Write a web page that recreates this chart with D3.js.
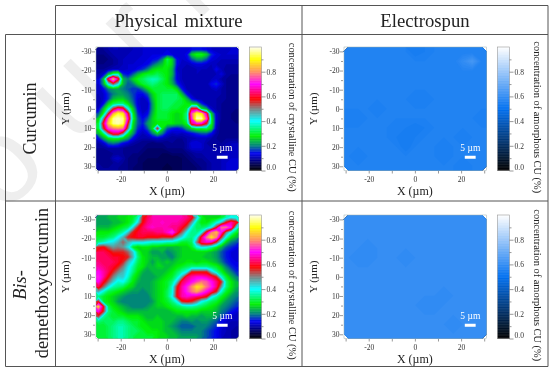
<!DOCTYPE html>
<html>
<head>
<meta charset="utf-8">
<script src="https://cdn.jsdelivr.net/npm/d3@7"></script>
<style>
  html, body { margin: 0; padding: 0; background: #fff; }
  svg { display: block; filter: blur(0.35px); }
  text { font-family: "Liberation Serif", serif; }
</style>
</head>
<body>
<div id="chart"></div>
<script>
// Labels and ticks
const columnLabels = ["Physical mixture", "Electrospun"];
const barTitles = ["concentration of crystalline CU (%)", "concentration of amorphous CU (%)"];
const xTicks = [-30, -20, -10, 0, 10, 20, 30];
const xLabelled = [-20, 0, 20];
const yTicks = [-30, -25, -20, -15, -10, -5, 0, 5, 10, 15, 20, 25, 30];
const yLabelled = [-30, -20, -10, 0, 10, 20, 30];
const barTicks = [0, 0.1, 0.2, 0.3, 0.4, 0.5, 0.6, 0.7, 0.8, 0.9];
const barLabelled = [0, 0.2, 0.4, 0.6, 0.8];

// Colour stops of the two colour bars
const rainbowDomain = [0, 0.06, 0.14, 0.2, 0.28, 0.4, 0.5, 0.58, 0.7, 0.8, 0.9, 1];
const rainbowColors = ["#000000", "#000060", "#0000f0", "#008080", "#00f000", "#00ffff", "#808080", "#ff0000", "#ff00ff", "#ff9060", "#ffff00", "#fffff0"];
const blueDomain = [0, 0.5, 1];
const blueColors = ["#000000", "#0070f0", "#ffffff"];

// Concentration (in %), one row per line, top to bottom
const mixtureCurcumin = [
  [8,9,10,11,11,10,10,11,11,12,12,12,12,12,13,12,12,12,12,14,14,14,13,12,11,11,11,12,12],
  [8,8,9,10,10,10,11,11,11,12,12,13,13,13,14,13,12,12,14,26,30,30,26,16,13,12,12,12,12],
  [7,7,8,9,10,11,11,11,12,12,13,14,15,20,32,26,14,12,13,18,22,22,18,13,12,11,11,11,11],
  [8,8,8,9,10,11,12,12,12,13,14,18,22,25,30,26,14,11,11,12,13,13,12,11,11,10,10,10,10],
  [9,9,10,11,11,11,12,12,14,16,20,26,28,28,28,24,12,11,10,10,11,11,11,10,14,11,9,9,9],
  [10,12,24,34,36,16,14,18,24,28,30,30,32,30,28,24,13,11,10,10,11,10,10,10,11,13,10,9,9],
  [12,24,62,84,62,24,20,26,30,32,35,37,36,32,28,22,13,11,10,10,11,10,10,11,12,10,9,8,8],
  [12,22,40,52,42,24,18,20,26,30,32,34,32,30,28,24,16,12,10,10,10,10,10,14,16,12,9,8,8],
  [11,14,20,22,22,20,18,16,16,20,26,30,30,30,30,30,26,15,11,10,10,10,10,11,12,10,9,8,8],
  [11,12,16,20,22,22,20,17,14,14,18,26,30,32,32,32,32,24,14,11,10,10,10,10,10,10,9,8,8],
  [10,12,16,24,26,26,22,18,13,11,14,24,30,32,32,32,32,30,24,14,11,10,10,10,10,9,9,8,8],
  [10,14,26,32,34,34,28,20,13,11,11,22,30,32,32,32,30,30,28,26,24,16,11,10,10,9,8,8,8],
  [12,24,36,55,66,62,40,26,14,11,12,22,30,32,32,30,30,28,30,60,60,28,22,12,10,9,8,8,8],
  [18,30,56,82,92,88,62,30,16,12,14,24,30,30,30,28,26,28,34,76,92,88,64,26,12,9,8,8,7],
  [26,48,78,96,98,96,68,32,18,14,18,26,30,30,30,28,26,28,34,72,98,98,74,30,12,9,8,8,7],
  [30,60,84,96,98,94,58,28,18,15,22,26,28,28,28,28,26,26,30,64,70,68,56,30,12,8,8,8,8],
  [30,54,74,78,80,78,50,26,16,13,18,28,58,28,18,15,14,16,22,26,30,30,32,26,11,8,8,8,8],
  [24,32,50,62,62,50,30,22,13,11,13,20,26,20,13,11,12,11,12,14,16,18,18,14,10,8,8,8,8],
  [14,22,28,30,30,26,22,14,11,10,10,11,12,11,10,9,9,9,10,10,11,11,11,10,9,8,9,9,9],
  [10,12,18,20,18,14,12,10,9,8,8,7,8,8,8,9,8,8,10,13,13,12,10,9,9,9,10,11,11],
  [9,9,10,10,10,9,8,8,8,8,7,7,7,7,8,8,8,8,10,12,12,12,10,10,10,10,10,11,11],
  [8,8,8,9,9,9,8,8,8,7,6,6,6,6,6,7,7,7,8,9,10,10,10,10,10,11,11,11,11],
  [8,8,8,11,12,10,8,7,7,6,6,6,6,5,5,5,5,6,7,8,9,9,10,10,10,11,11,12,12],
  [9,8,8,9,10,9,8,7,7,6,5,5,5,5,5,5,5,6,6,7,8,8,9,10,10,11,12,12,12],
  [9,9,9,9,9,8,8,7,6,6,5,5,5,5,4,5,5,6,6,6,7,8,9,10,10,11,12,12,12]
];

const mixtureBdmc = [
  [22,22,24,24,26,26,28,30,36,56,62,66,66,66,66,66,66,66,64,60,44,30,26,26,26,30,36,40,38],
  [22,22,22,24,24,26,28,32,42,58,64,66,66,68,66,66,66,64,60,48,34,28,28,32,38,44,58,66,60],
  [24,24,24,26,28,30,32,42,56,62,66,68,66,66,66,64,64,60,52,38,32,32,34,40,56,78,78,70,42],
  [28,28,28,30,32,36,44,56,60,62,62,62,64,64,68,74,62,52,40,34,34,40,60,78,84,70,50,38,30],
  [30,30,32,34,40,46,56,58,60,60,58,58,58,56,56,56,48,42,36,34,40,62,78,88,80,55,38,28,24],
  [34,36,40,42,46,52,46,42,42,42,40,38,38,38,36,36,34,30,30,32,50,64,68,66,54,38,26,20,18],
  [56,58,52,48,50,48,42,30,26,28,28,26,26,24,24,24,24,26,26,30,38,42,40,36,30,24,18,16,14],
  [62,62,60,56,56,56,52,44,32,26,26,22,22,24,20,22,24,26,26,26,26,26,26,24,22,18,15,13,12],
  [62,62,62,60,60,58,56,46,34,28,26,24,24,22,22,20,24,26,26,26,26,26,24,24,22,18,15,13,12],
  [64,62,62,62,60,56,46,40,32,28,26,22,26,24,26,24,26,26,28,28,26,28,28,26,24,20,16,14,13],
  [66,64,62,60,56,50,42,36,30,28,24,24,26,26,24,26,28,30,32,34,34,34,34,32,30,26,20,16,14],
  [70,66,62,56,50,46,40,34,28,24,22,24,24,24,26,28,32,36,40,56,56,56,56,44,36,30,24,20,16],
  [72,66,58,50,44,44,38,30,26,22,22,22,24,26,28,30,36,46,62,66,68,68,66,62,56,38,30,24,20],
  [70,60,52,44,38,40,34,28,24,22,22,24,26,28,30,34,44,62,66,70,74,78,76,70,64,56,34,28,24],
  [62,52,42,36,34,32,28,26,22,22,22,24,26,28,30,38,56,66,72,80,88,86,78,72,64,48,34,28,24],
  [46,38,32,30,28,26,24,22,22,20,22,24,26,28,32,38,58,66,72,78,82,76,70,64,56,38,30,26,22],
  [34,30,28,26,24,22,20,20,20,20,20,24,26,28,32,40,58,66,68,66,64,62,58,42,36,30,26,22,20],
  [56,30,28,26,22,20,20,20,20,20,20,22,26,28,30,34,40,56,58,56,50,40,36,32,30,26,22,20,18],
  [86,58,32,28,26,24,22,20,20,20,22,24,26,26,28,30,32,34,36,36,34,32,30,28,26,22,20,18,16],
  [70,56,34,30,28,26,24,24,24,24,24,24,24,24,24,26,28,28,28,28,28,26,26,26,24,20,18,15,13],
  [54,36,32,30,30,30,28,28,28,26,24,24,26,24,24,24,24,24,26,24,24,22,24,24,22,18,14,12,11],
  [34,32,32,32,34,34,32,30,30,28,26,26,26,26,24,24,22,20,20,22,20,22,22,20,18,14,12,11,11],
  [30,30,32,34,36,36,34,32,30,28,28,26,26,26,24,22,20,18,18,18,20,20,20,18,16,13,11,10,10],
  [30,30,32,34,36,36,34,32,32,30,28,28,28,26,24,24,22,20,20,20,20,20,18,16,14,12,11,10,9],
  [30,30,32,34,36,36,34,32,30,30,30,30,28,26,26,24,24,22,22,22,22,20,18,16,14,12,10,10,9]
];

const spunCurcumin = [
  [56,56,56,56,56,56,56,54,55,56,56,56,56,56,56],
  [56,56,56,57,56,56,56,56,56,56,56,56,60,64,57],
  [56,56,56,56,56,56,56,56,56,56,56,56,57,57,56],
  [56,56,56,56,56,56,56,56,56,56,56,56,56,56,56],
  [56,57,56,56,56,56,56,56,56,56,56,56,56,56,56],
  [56,56,56,56,56,56,56,55,55,56,56,56,56,56,56],
  [56,56,56,55,56,56,56,56,56,56,56,56,56,56,56],
  [55,55,56,56,56,56,56,56,56,56,56,56,56,56,55],
  [56,56,56,56,56,55,55,54,55,56,56,56,56,56,56],
  [56,56,56,56,56,55,54,55,56,56,56,56,55,56,56],
  [56,56,57,56,56,56,54,56,56,56,55,56,56,56,56],
  [56,55,56,56,56,56,56,56,56,56,55,56,56,56,56],
  [56,56,56,56,56,56,56,56,56,56,56,56,55,56,56]
];

const spunBdmc = [
  [60,60,60,60,60,60,60,60,60,60,60,60,60,60,60],
  [60,60,60,60,60,60,60,60,60,60,60,60,61,60,60],
  [60,60,60,60,61,60,60,60,60,60,60,60,61,60,60],
  [60,60,59,60,60,60,60,60,60,60,60,60,60,60,60],
  [60,59,59,60,60,60,59,60,60,60,60,60,60,60,60],
  [60,60,60,60,60,60,60,60,60,60,60,60,60,60,60],
  [60,60,60,60,60,61,60,60,60,60,60,60,60,60,60],
  [60,60,60,60,61,60,61,60,60,60,60,60,60,60,60],
  [60,60,60,60,60,60,60,60,60,60,59,60,60,60,60],
  [60,60,60,60,60,60,60,60,59,59,60,60,60,60,60],
  [60,60,60,60,60,60,60,60,60,60,60,60,60,60,60],
  [60,60,60,60,60,60,60,60,60,60,60,59,60,60,60],
  [60,60,60,60,60,60,60,60,60,60,60,60,60,60,60]
];

// Setup
const svgWidth = 553;
const svgHeight = 372;
const lineColor = "#555";
const tickColor = "#555";

const svg = d3.select("#chart")
    .append("svg")
    .attr("width", svgWidth)
    .attr("height", svgHeight);

// Watermark sits behind everything
svg.append("text")
    .attr("transform", "translate(-62,281) rotate(-45)")
    .style("font-family", "'Liberation Sans', sans-serif")
    .attr("font-size", 120)
    .attr("letter-spacing", 33)
    .attr("fill", "#eeeeee")
    .text("Journal");

const rainbow = d3.scaleLinear().domain(rainbowDomain).range(rainbowColors);
const blues = d3.scaleLinear().domain(blueDomain).range(blueColors);

// One panel: contour map, axes, scale bar and colour bar
function drawPanel(left, top, values, color, barTitle, titleGap) {
  const w = 142.5;
  const h = 123.5;
  const g = svg.append("g").attr("transform", `translate(${left},${top})`);

  const x = d3.scaleLinear().domain([-30.7, 31]).range([0, w]);
  const y = d3.scaleLinear().domain([-32.3, 32.2]).range([0, h]);

  const rows = values.length;
  const cols = values[0].length;
  const gridX = d3.scaleLinear().domain([0, cols]).range([0, w]);
  const gridY = d3.scaleLinear().domain([0, rows]).range([0, h]);
  const gridPath = d3.geoPath(d3.geoTransform({
    point(px, py) { this.stream.point(gridX(px), gridY(py)); }
  }));

  const levels = d3.range(0, 1, 0.01);
  const contours = d3.contours()
      .size([cols, rows])
      .thresholds(levels)
      .smooth(true)(values.flat().map(d => d / 100));

  g.selectAll(".level")
    .data(contours)
    .join("path")
      .attr("class", "level")
      .attr("d", gridPath)
      .attr("fill", d => color(d.value + 0.005));

  g.append("rect")
      .attr("width", w)
      .attr("height", h)
      .attr("fill", "none")
      .attr("stroke", "#9aa")
      .attr("stroke-width", 0.5);

  // x axis, labelled every 20
  const xAxis = g.append("g")
      .attr("transform", `translate(0,${h + 0.5})`)
      .call(d3.axisBottom(x).tickValues(xTicks).tickSize(2.5).tickPadding(3)
        .tickFormat(d => xLabelled.includes(d) ? d : ""));

  // y axis, labelled every 10
  const yAxis = g.append("g")
      .attr("transform", "translate(-1,0)")
      .call(d3.axisLeft(y).tickValues(yTicks).tickSize(3).tickPadding(0.5)
        .tickFormat(d => yLabelled.includes(d) ? d : ""));

  [xAxis, yAxis].forEach(a => {
    a.select(".domain").remove();
    a.selectAll("line").attr("stroke", tickColor).attr("stroke-width", 0.6);
    a.selectAll("text")
        .attr("fill", "#333")
        .style("font-family", "'Liberation Serif', serif")
        .style("font-size", "7.5px");
  });
  yAxis.selectAll("line").attr("x2", d => yLabelled.includes(d) ? -3.5 : -2);

  g.append("text")
      .attr("x", x(0))
      .attr("y", h + 24)
      .attr("text-anchor", "middle")
      .attr("font-size", 12)
      .attr("fill", "#222")
      .text("X (µm)");

  g.append("text")
      .attr("transform", `translate(-27,${y(0)}) rotate(-90)`)
      .attr("text-anchor", "middle")
      .attr("font-size", 11)
      .attr("fill", "#222")
      .text("Y (µm)");

  // Scale bar
  g.append("text")
      .attr("x", x(24))
      .attr("y", y(21.8))
      .attr("text-anchor", "middle")
      .attr("font-size", 9.5)
      .attr("fill", "#fff")
      .text("5 µm");

  g.append("rect")
      .attr("x", x(21.6))
      .attr("y", y(24.5))
      .attr("width", x(26.3) - x(21.6))
      .attr("height", 3)
      .attr("fill", "#fff");

  // Colour bar
  const barLeft = w + 11;
  const barWidth = 12;
  const barScale = d3.scaleLinear().domain([0, 1]).range([h, 0]);
  const bar = g.append("g").attr("transform", `translate(${barLeft},0)`);

  bar.selectAll("rect")
    .data(d3.range(0, 1, 0.005))
    .join("rect")
      .attr("y", d => barScale(d + 0.005))
      .attr("width", barWidth)
      .attr("height", barScale(0) - barScale(0.005) + 0.4)
      .attr("fill", d => color(d));

  bar.append("rect")
      .attr("width", barWidth)
      .attr("height", h)
      .attr("fill", "none")
      .attr("stroke", "#999")
      .attr("stroke-width", 0.6);

  const barAxis = bar.append("g")
      .attr("transform", `translate(${barWidth},0)`)
      .call(d3.axisRight(barScale).tickValues(barTicks).tickSize(2).tickPadding(1)
        .tickFormat(d => barLabelled.includes(d) ? d.toFixed(1) : ""));
  barAxis.select(".domain").remove();
  barAxis.selectAll("line")
      .attr("stroke", tickColor)
      .attr("stroke-width", 0.6)
      .attr("x2", d => barLabelled.includes(d) ? 4 : 2);
  barAxis.selectAll("text")
      .attr("x", 5)
      .attr("dy", d => d === 0 ? "-0.2em" : "0.32em")
      .attr("fill", "#333")
      .style("font-family", "'Liberation Serif', serif")
      .style("font-size", "7.5px");

  g.append("text")
      .attr("transform", `translate(${barLeft + titleGap},${h / 2 + 8.5}) rotate(90)`)
      .attr("text-anchor", "middle")
      .attr("font-size", 10.4)
      .attr("fill", "#222")
      .text(barTitle);
}

drawPanel(96, 47, mixtureCurcumin, rainbow, barTitles[0], 39);
drawPanel(344, 47, spunCurcumin, blues, barTitles[1], 36);
drawPanel(96, 215, mixtureBdmc, rainbow, barTitles[0], 39);
drawPanel(344, 215, spunBdmc, blues, barTitles[1], 36);

// Table rules
const tableRules = [
  [55.5, 5.5, 548, 5.5], [5.5, 34.5, 548, 34.5], [5.5, 201, 548, 201], [5.5, 366.5, 548, 366.5],
  [5.5, 34.5, 5.5, 366.5], [55.5, 5.5, 55.5, 366.5], [302, 5.5, 302, 366.5], [548, 5.5, 548, 366.5]
];
svg.append("g").selectAll("line")
  .data(tableRules)
  .join("line")
    .attr("x1", d => d[0])
    .attr("y1", d => d[1])
    .attr("x2", d => d[2])
    .attr("y2", d => d[3])
    .attr("stroke", lineColor)
    .attr("stroke-width", 1);

// Table headers
svg.append("g").selectAll("text")
  .data(columnLabels)
  .join("text")
    .attr("x", (d, i) => i === 0 ? 178.5 : 425)
    .attr("y", 27)
    .attr("text-anchor", "middle")
    .attr("font-size", 18.7)
    .attr("word-spacing", 2)
    .attr("fill", "#222")
    .text(d => d);

svg.append("text")
    .attr("transform", "translate(36,118.5) rotate(-90)")
    .attr("text-anchor", "middle")
    .attr("font-size", 18)
    .attr("fill", "#222")
    .text("Curcumin");

svg.append("text")
    .attr("transform", "translate(26,285) rotate(-90)")
    .attr("text-anchor", "middle")
    .attr("font-size", 18.3)
    .attr("font-style", "italic")
    .attr("fill", "#222")
    .text("Bis-");

svg.append("text")
    .attr("transform", "translate(47.5,283) rotate(-90)")
    .attr("text-anchor", "middle")
    .attr("font-size", 18.3)
    .attr("fill", "#222")
    .text("demethoxycurcumin");
</script>
</body>
</html>
